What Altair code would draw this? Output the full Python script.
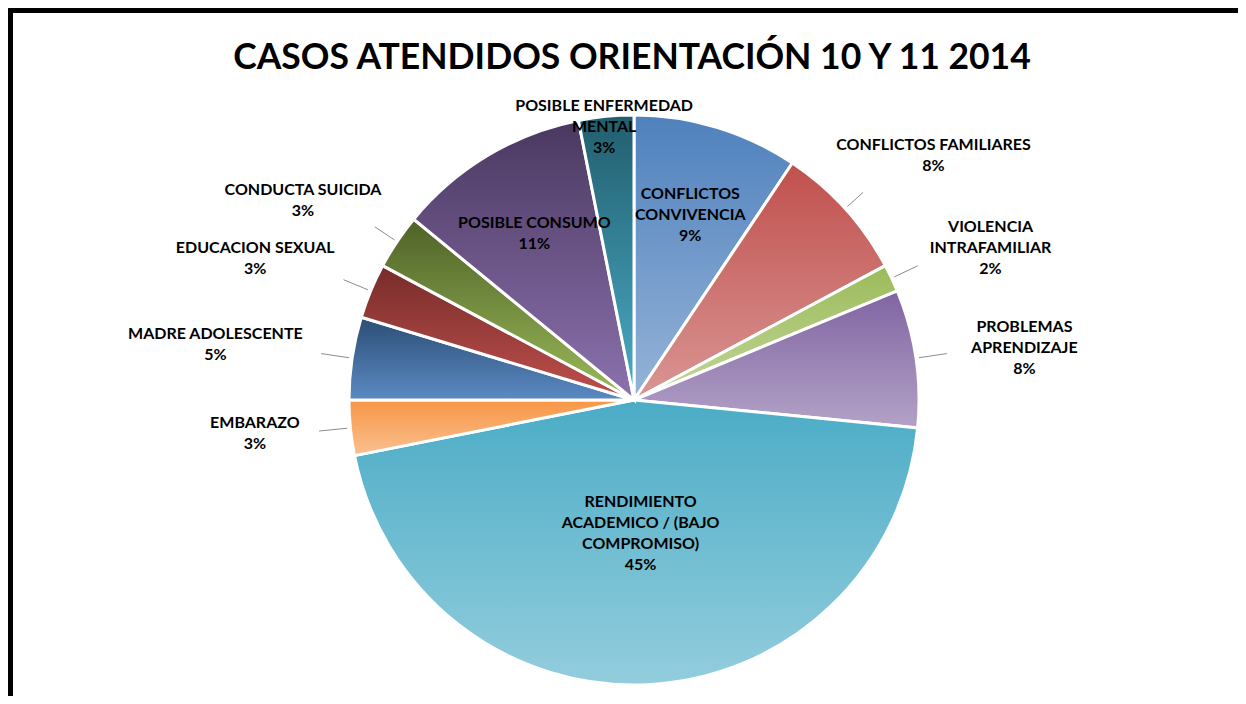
import math
import altair as alt
import pandas as pd

# ---- data (clockwise from 12 o'clock) ----
categories = [
    "CONFLICTOS CONVIVENCIA",
    "CONFLICTOS FAMILIARES",
    "VIOLENCIA INTRAFAMILIAR",
    "PROBLEMAS APRENDIZAJE",
    "RENDIMIENTO ACADEMICO / (BAJO COMPROMISO)",
    "EMBARAZO",
    "MADRE ADOLESCENTE",
    "EDUCACION SEXUAL",
    "CONDUCTA SUICIDA",
    "POSIBLE CONSUMO",
    "POSIBLE ENFERMEDAD MENTAL",
]
cases = [6, 5, 1, 5, 29, 2, 3, 2, 2, 7, 2]
label_lines = [
    ["CONFLICTOS", "CONVIVENCIA"],
    ["CONFLICTOS FAMILIARES"],
    ["VIOLENCIA", "INTRAFAMILIAR"],
    ["PROBLEMAS", "APRENDIZAJE"],
    ["RENDIMIENTO", "ACADEMICO / (BAJO", "COMPROMISO)"],
    ["EMBARAZO"],
    ["MADRE ADOLESCENTE"],
    ["EDUCACION SEXUAL"],
    ["CONDUCTA SUICIDA"],
    ["POSIBLE CONSUMO"],
    ["POSIBLE ENFERMEDAD", "MENTAL"],
]
title_text = "CASOS ATENDIDOS ORIENTACIÓN 10 Y 11 2014"

# ---- styles ----
slice_colors = [  # (top, bottom) of each slice's vertical gradient
    ("#4F81BD", "#95B3D7"),
    ("#C0504D", "#D99694"),
    ("#9BBB59", "#C3D69B"),
    ("#8064A2", "#B3A2C7"),
    ("#4BACC6", "#93CDDD"),
    ("#F79646", "#FAC090"),
    ("#2C4D75", "#5B8AC4"),
    ("#772C2A", "#C0504D"),
    ("#4F6228", "#9BBB59"),
    ("#4A3860", "#8C72AE"),
    ("#215E6E", "#4BACC6"),
]
W, H = 1230, 688
CX, CY, R = 626, 392, 285
FONT = "Lato"
LABEL_SIZE = 16
LINE_H = 21
CHAR_W = 9.6
SIDE_PUSH = 38
OUT_KY = 0.9   # outside labels sit on a slightly flattened ring

# ---- derived table (label distance from centre depends on slice share/side) ----
total = sum(cases)
rows = []
start = 0
for i, (cat, n, lines) in enumerate(zip(categories, cases, label_lines)):
    mid = 2 * math.pi * (start + n / 2) / total
    start += n
    share = n / total
    s = abs(math.sin(mid))
    if share >= 0.09:
        lr = R * (0.47 if share > 0.25 else 0.68)
        ky = 1.0
        lead0 = lead1 = None
    else:
        hw = max(len(t) for t in lines) * CHAR_W / 2
        lr = R + (hw + 14 + SIDE_PUSH) * s + 6
        ky = OUT_KY
        edge = lr - hw * s - 6
        if edge - R > 12:
            lead0, lead1 = R + 3, R + 3 + 0.55 * (edge - R)
        else:
            lead0 = lead1 = None
    rows.append(dict(idx=i, category=cat, cases=n, label="\n".join(lines),
                     lr=lr, ky=ky, lead0=lead0, lead1=lead1))
df = pd.DataFrame(rows)


def grad(top, bottom):
    return {
        "gradient": "linear", "x1": 0, "y1": 0, "x2": 0, "y2": 1,
        "stops": [{"offset": 0, "color": top}, {"offset": 1, "color": bottom}],
    }


fill_enc = {
    "condition": [
        {"test": f"datum.idx === {i}", "value": grad(*slice_colors[i])}
        for i in range(len(categories) - 1)
    ],
    "value": grad(*slice_colors[-1]),
}

base = alt.Chart(df).transform_joinaggregate(
    total="sum(cases)"
).transform_window(
    cum="sum(cases)", sort=[alt.SortField("idx", order="ascending")],
    frame=[None, 0],
).transform_calculate(
    a0="2 * PI * (datum.cum - datum.cases) / datum.total",
    a1="2 * PI * datum.cum / datum.total",
    amid="2 * PI * (datum.cum - datum.cases / 2) / datum.total",
    txt="datum.label + '\\n' + format(datum.cases / datum.total, '.0%')",
)

arcs = base.mark_arc(stroke="white", strokeWidth=3).encode(
    theta=alt.Theta("a0:Q", scale=None),
    theta2="a1:Q",
    radius=alt.value(R),
    fill=fill_enc,
    x=alt.value(CX),
    y=alt.value(CY),
    tooltip=["category:N", "cases:Q"],
)

leaders = base.transform_filter("isValid(datum.lead0)").transform_calculate(
    lx0=f"{CX} + datum.lead0 * sin(datum.amid)",
    ly0=f"{CY} - datum.lead0 * cos(datum.amid)",
    lx1=f"{CX} + datum.lead1 * sin(datum.amid)",
    ly1=f"{CY} - datum.lead1 * cos(datum.amid)",
).mark_rule(color="#8C8C8C", strokeWidth=1).encode(
    x=alt.X("lx0:Q", scale=None),
    y=alt.Y("ly0:Q", scale=None),
    x2="lx1:Q",
    y2="ly1:Q",
)

labels = base.transform_calculate(
    tx=f"{CX} + datum.lr * sin(datum.amid)",
    ty=f"{CY} - datum.ky * datum.lr * cos(datum.amid)"
       f" - (length(split(datum.txt, '\\n')) - 1) * {LINE_H} / 2",
).mark_text(
    font=FONT, fontSize=LABEL_SIZE, fontWeight="bold", color="#000000",
    align="center", baseline="middle", lineBreak="\n", lineHeight=LINE_H,
).encode(
    x=alt.X("tx:Q", scale=None),
    y=alt.Y("ty:Q", scale=None),
    text="txt:N",
)

frame_data = alt.Data(values=[{"k": 0}])
border_top = alt.Chart(frame_data).mark_rule(color="black", strokeWidth=6).encode(
    x=alt.value(2), x2=alt.value(W), y=alt.value(2)
)
border_left = alt.Chart(frame_data).mark_rule(color="black", strokeWidth=6).encode(
    x=alt.value(2), y=alt.value(0), y2=alt.value(H)
)

chart = alt.layer(border_top, border_left, arcs, leaders, labels).properties(
    width=W, height=H,
    autosize=alt.AutoSizeParams(type="none"),
    padding=0,
    title=alt.Title(title_text, font=FONT, fontSize=35.5, fontWeight="bold",
                    color="#000000", anchor="middle", dy=75, dx=9),
).configure_view(stroke=None)

chart.save("out.html", embed_options={"renderer": "svg", "actions": False})
